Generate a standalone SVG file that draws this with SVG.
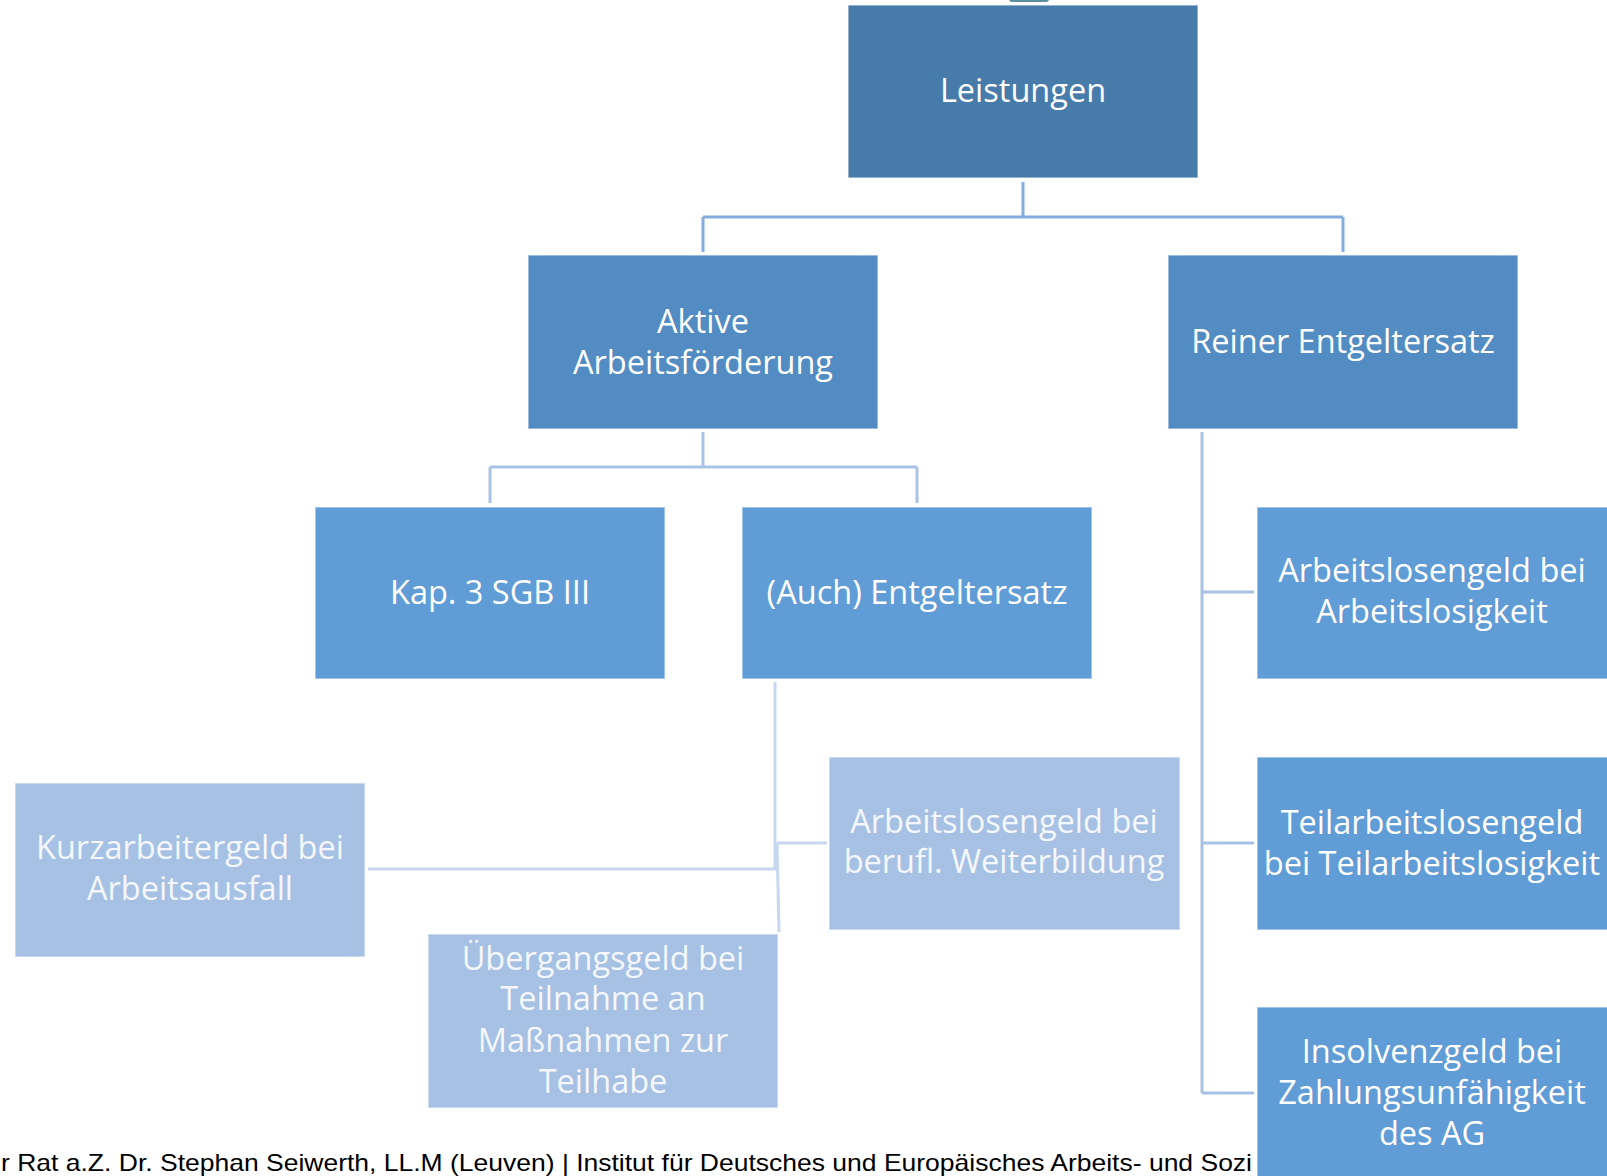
<svg xmlns="http://www.w3.org/2000/svg" width="1607" height="1176" viewBox="0 0 1607 1176">
<style>
.box{stroke:#ffffff;stroke-opacity:0.55;stroke-width:1.5}
.l0{fill:#477BAA}
.l1{fill:#528CC2}
.l2{fill:#609CD5}
.l3{fill:#A6C1E3}
.t{font-family:"Open Sans","Noto Sans",sans-serif;font-size:32.5px;fill:#ffffff;text-anchor:middle}
.tl{fill:#F4F7FC}
.c{fill:none;stroke-width:3}
.foot{font-family:"Liberation Sans",Arial,sans-serif;font-size:24px;fill:#000000}
</style>
<rect width="1607" height="1176" fill="#ffffff"/>
<rect x="1009" y="-6" width="40" height="8" rx="3" fill="#5A8FA2"/>
<text class="foot" x="1" y="1171" textLength="1251" lengthAdjust="spacingAndGlyphs">r Rat a.Z. Dr. Stephan Seiwerth, LL.M (Leuven) | Institut für Deutsches und Europäisches Arbeits- und Sozi</text>
<g id="connectors">
<path class="c" stroke="#84ADDD" d="M1023,182 V217 M703,217 H1343 M703,217 V252 M1343,217 V252"/>
<path class="c" stroke="#A9C3E6" d="M703,432 V467 M490,467 H917 M490,467 V503 M917,467 V503"/>
<path class="c" stroke="#A6C1E4" d="M1202,432 V1093 M1202,592 H1254 M1202,843 H1254 M1202,1093 H1254"/>
<path class="c" stroke="#C6D7EE" d="M775,682 V869 H368 M777,843 L779,932 M777,843 H827"/>
</g>
<g id="leistungen">
<rect class="box l0" x="848" y="5" width="350" height="173"/>
<text class="t" x="1023" y="102">Leistungen</text>
</g>
<g id="aktive">
<rect class="box l1" x="528" y="255" width="350" height="174"/>
<text class="t" x="703" y="333">Aktive</text>
<text class="t" x="703" y="374">Arbeitsförderung</text>
</g>
<g id="reiner">
<rect class="box l1" x="1168" y="255" width="350" height="174"/>
<text class="t" x="1343" y="353">Reiner Entgeltersatz</text>
</g>
<g id="kap3">
<rect class="box l2" x="315" y="507" width="350" height="172"/>
<text class="t" x="490" y="604">Kap. 3 SGB III</text>
</g>
<g id="auch">
<rect class="box l2" x="742" y="507" width="350" height="172"/>
<text class="t" x="917" y="604">(Auch) Entgeltersatz</text>
</g>
<g id="alg">
<rect class="box l2" x="1257" y="507" width="352" height="172"/>
<text class="t" x="1432" y="582">Arbeitslosengeld bei</text>
<text class="t" x="1432" y="623">Arbeitslosigkeit</text>
</g>
<g id="teilalg">
<rect class="box l2" x="1257" y="757" width="352" height="173"/>
<text class="t" x="1432" y="834">Teilarbeitslosengeld</text>
<text class="t" x="1432" y="875">bei Teilarbeitslosigkeit</text>
</g>
<g id="insolvenz">
<rect class="box l2" x="1257" y="1007" width="352" height="175"/>
<text class="t" x="1432" y="1063">Insolvenzgeld bei</text>
<text class="t" x="1432" y="1104">Zahlungsunfähigkeit</text>
<text class="t" x="1432" y="1145">des AG</text>
</g>
<g id="weiterbildung">
<rect class="box l3" x="829" y="757" width="351" height="173"/>
<text class="t tl" x="1004" y="833">Arbeitslosengeld bei</text>
<text class="t tl" x="1004" y="873">berufl. Weiterbildung</text>
</g>
<g id="kurzarbeit">
<rect class="box l3" x="15" y="783" width="350" height="174"/>
<text class="t tl" x="190" y="859">Kurzarbeitergeld bei</text>
<text class="t tl" x="190" y="900">Arbeitsausfall</text>
</g>
<g id="uebergang">
<rect class="box l3" x="428" y="934" width="350" height="174"/>
<text class="t tl" x="603" y="970">Übergangsgeld bei</text>
<text class="t tl" x="603" y="1010">Teilnahme an</text>
<text class="t tl" x="603" y="1052">Maßnahmen zur</text>
<text class="t tl" x="603" y="1093">Teilhabe</text>
</g>
</svg>
